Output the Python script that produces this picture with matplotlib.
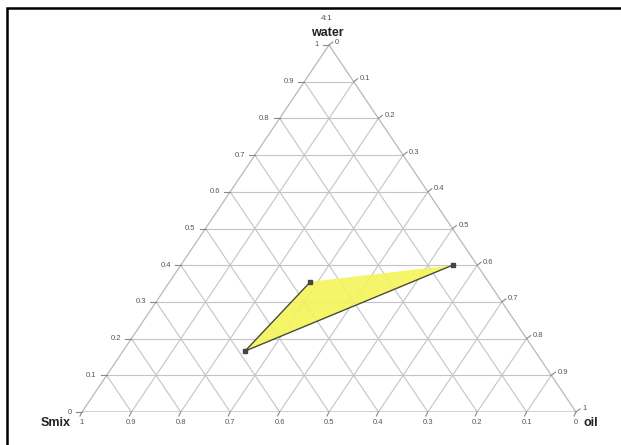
import numpy as np
import matplotlib
matplotlib.use("Agg")
import matplotlib.pyplot as plt
from matplotlib.patches import Rectangle, Polygon

# ternary data (fractions)
ratio_label = "4:1"
axis_names = ["water", "Smix", "oil"]
ticks = [0.0, 0.1, 0.2, 0.3, 0.4, 0.5, 0.6, 0.7, 0.8, 0.9, 1.0]
pt_water = [0.40, 0.355, 0.166]
pt_oil = [0.55, 0.285, 0.247]

plt.rcParams['font.family'] = ['Liberation Sans', 'DejaVu Sans']

DPI = 100
fig = plt.figure(figsize=(6.21, 4.45), dpi=DPI)
W, H = 621, 445
# triangle box in pixels
left_px, right_px, top_px, bot_px = 82, 576, 45, 412
ax = fig.add_axes([left_px / W, (H - bot_px) / H,
                   (right_px - left_px) / W, (bot_px - top_px) / H])
ax.set_xlim(0, 1)
ax.set_ylim(0, 1)
ax.axis('off')

px_x = 1.0 / (right_px - left_px)   # one pixel in data x
px_y = 1.0 / (bot_px - top_px)      # one pixel in data y
pt = 0.72  # pixels -> points


def tern(water, oil):
    water = np.asarray(water, dtype=float)
    oil = np.asarray(oil, dtype=float)
    return oil + water / 2.0, water


grid_c = '#c4c4c4'
lab_c = '#555555'
fs = 5.5

# grid lines
for v in ticks[1:-1]:
    # constant water
    x0, y0 = tern(v, 0)
    x1, y1 = tern(v, 1 - v)
    ax.plot([x0, x1], [y0, y1], color=grid_c, lw=0.8)
    # constant oil
    x0, y0 = tern(0, v)
    x1, y1 = tern(1 - v, v)
    ax.plot([x0, x1], [y0, y1], color=grid_c, lw=0.8)
    # constant smix
    x0, y0 = tern(0, 1 - v)
    x1, y1 = tern(1 - v, 0)
    ax.plot([x0, x1], [y0, y1], color=grid_c, lw=0.8)

# triangle edges
ex, ey = tern([0, 1, 0, 0], [0, 0, 1, 0])
ax.plot(ex, ey, color='#b8b8b8', lw=0.9)

# ticks and labels
for v in ticks:
    lab = '%g' % v
    # left edge: water
    x, y = tern(v, 0)
    ax.plot([x, x - 6 * px_x], [y, y], color='#888888', lw=0.8, clip_on=False)
    ax.annotate(lab, (x, y), xytext=(-10 * pt, 0), textcoords='offset points',
                ha='right', va='center', fontsize=fs, color=lab_c)
    # right edge: oil
    x, y = tern(1 - v, v)
    ax.plot([x, x + 4 * px_x], [y, y + 3 * px_y], color='#888888', lw=0.8, clip_on=False)
    ax.annotate(lab, (x, y), xytext=(6 * pt, 3 * pt), textcoords='offset points',
                ha='left', va='center', fontsize=fs, color=lab_c)
    # bottom edge: smix
    x, y = tern(0, 1 - v)
    ax.plot([x, x - 2 * px_x], [y, y - 4 * px_y], color='#888888', lw=0.8, clip_on=False)
    ax.annotate(lab, (x, y), xytext=(0, -10 * pt), textcoords='offset points',
                ha='center', va='center', fontsize=fs, color=lab_c)

# axis names
tx, ty = tern(1, 0)
ax.annotate(axis_names[0], (tx, ty), xytext=(-2 * pt, 12 * pt), textcoords='offset points',
            ha='center', va='center', fontsize=9, fontweight='bold', color='#222222')
ax.annotate(ratio_label, (tx, ty), xytext=(-2 * pt, 26 * pt), textcoords='offset points',
            ha='center', va='center', fontsize=6, color=lab_c)
bx, by = tern(0, 0)
ax.annotate(axis_names[1], (bx, by), xytext=(-11 * pt, -11 * pt), textcoords='offset points',
            ha='right', va='center', fontsize=9, fontweight='bold', color='#222222')
rx, ry = tern(0, 1)
ax.annotate(axis_names[2], (rx, ry), xytext=(7 * pt, -11 * pt), textcoords='offset points',
            ha='left', va='center', fontsize=9, fontweight='bold', color='#222222')

# region
px_, py_ = tern(pt_water, pt_oil)
poly = Polygon(np.column_stack([px_, py_]), closed=True, facecolor='#f4f45a',
               edgecolor='none', alpha=0.9, zorder=3)
ax.add_patch(poly)
ax.plot([px_[1], px_[2], px_[0]], [py_[1], py_[2], py_[0]], color='#4a4a3a', lw=1.0, zorder=4)
ax.plot(px_, py_, 's', color='#444444', ms=3.5, zorder=5)

# frame around the picture
fig.patches.append(Rectangle((7 / W, -0.1), 1.2, 1.1 - 8 / H, transform=fig.transFigure,
                             fill=False, edgecolor='black', lw=1.8))

fig.savefig('out.png', dpi=DPI)
